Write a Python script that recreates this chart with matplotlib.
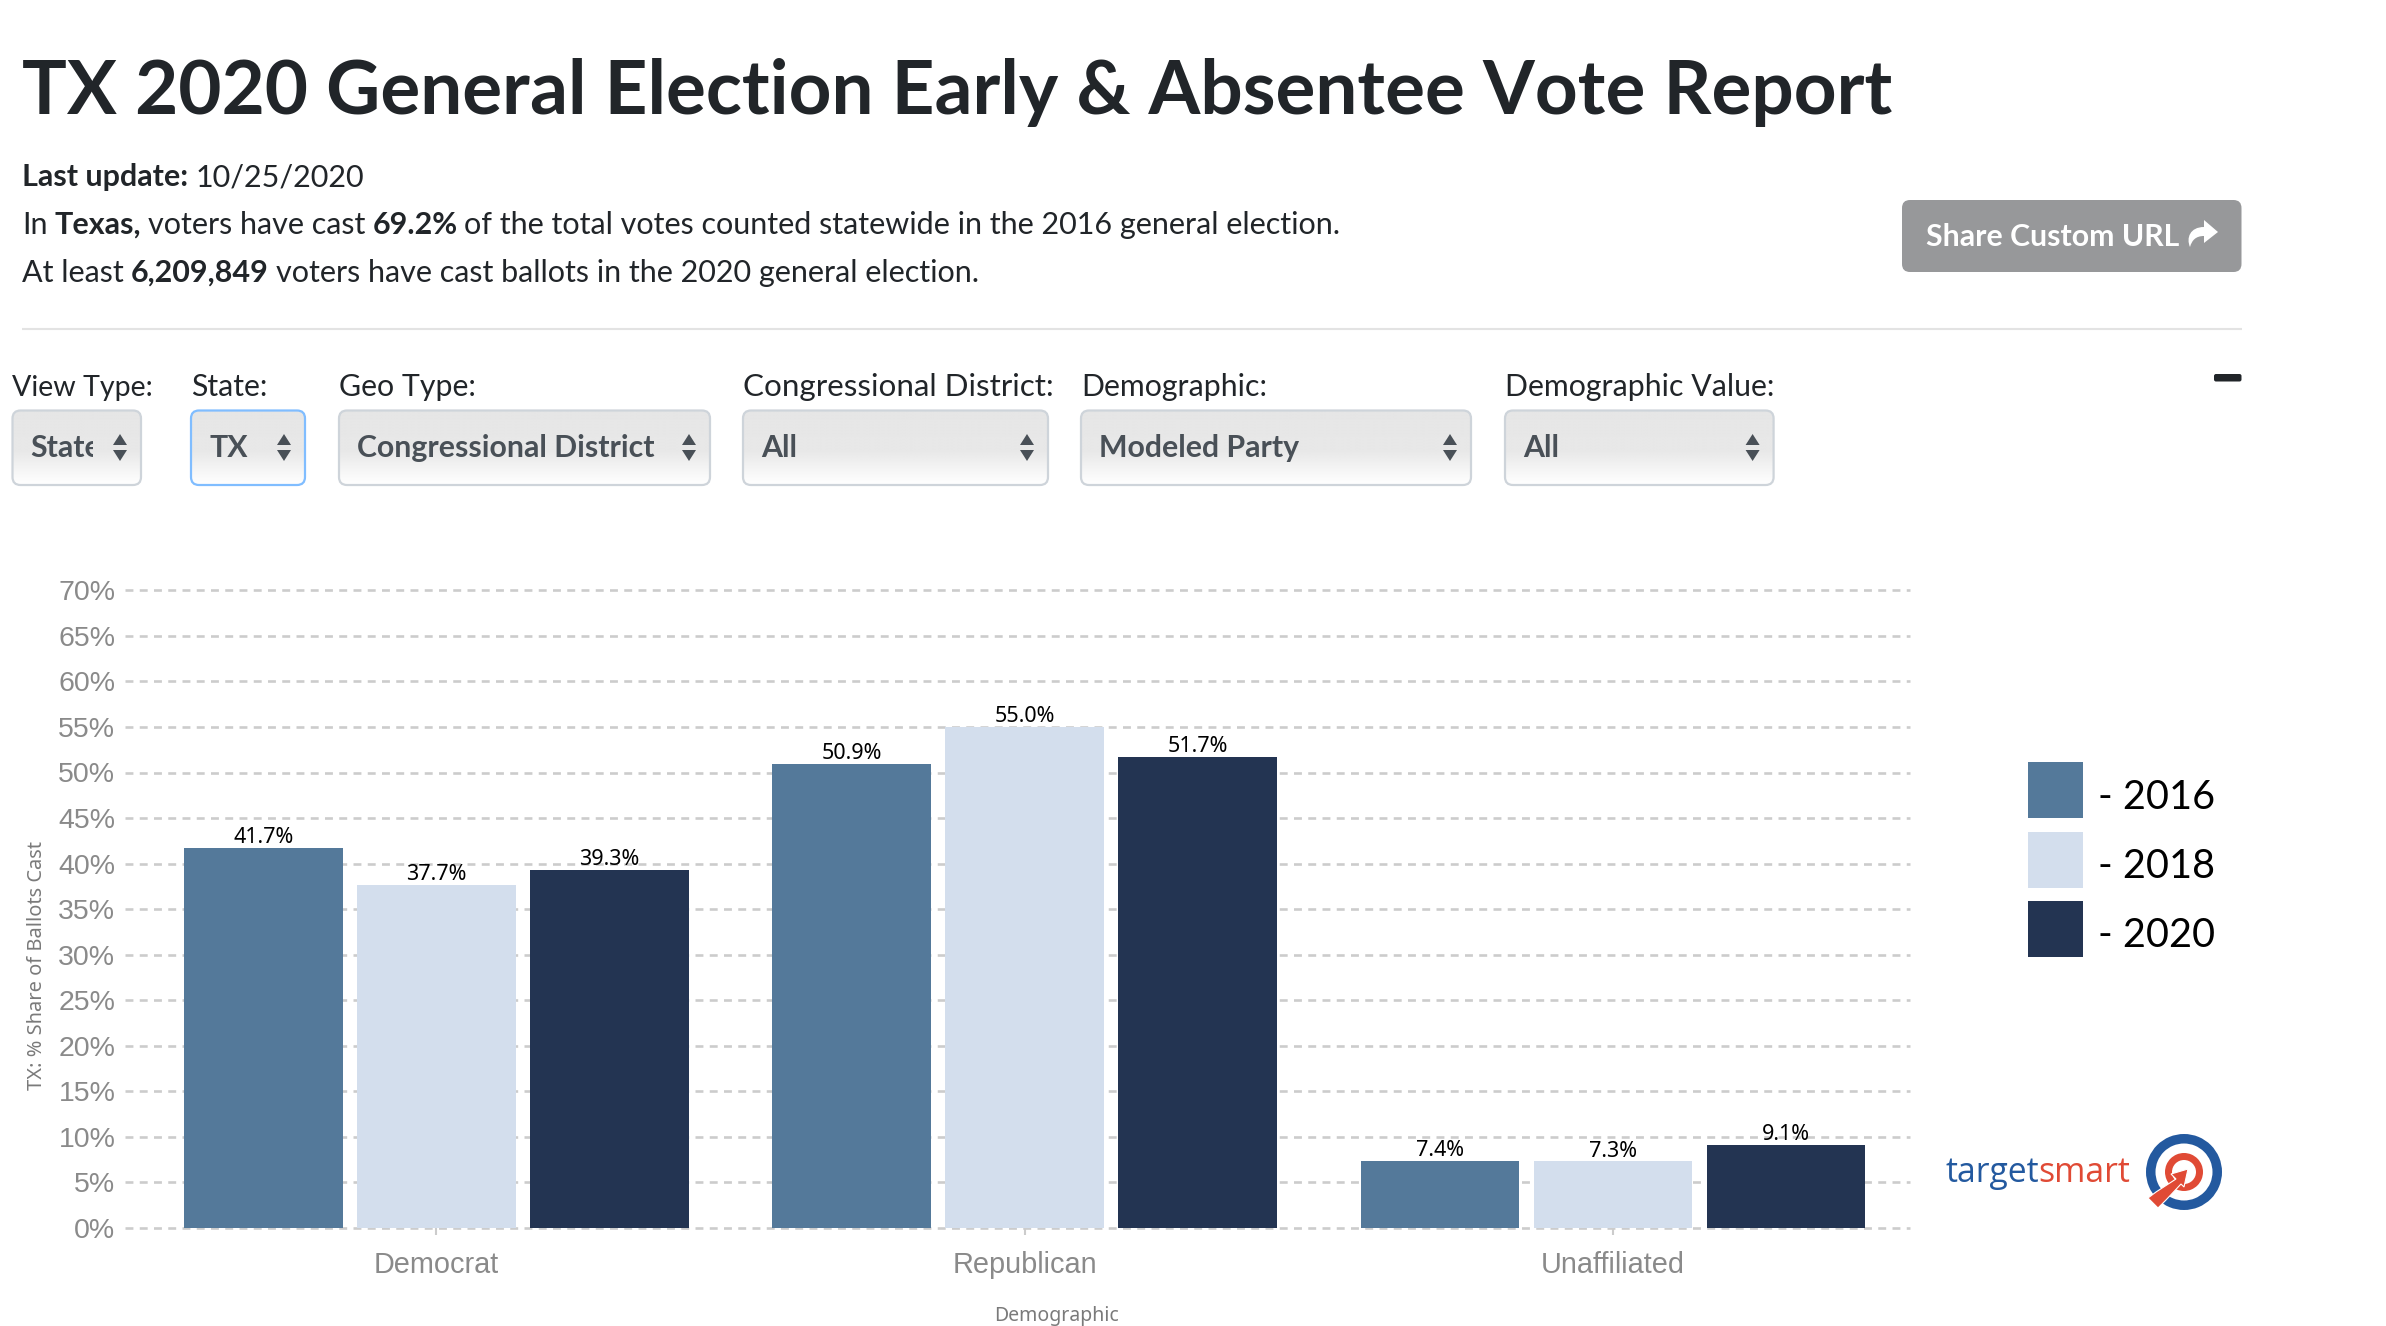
import numpy as np
import matplotlib
matplotlib.use("AGG")
import matplotlib.pyplot as plt
from matplotlib.patches import FancyBboxPatch, Rectangle, Wedge, Polygon, PathPatch
from matplotlib.path import Path
from matplotlib.ticker import FuncFormatter

# chart data
categories = ["Democrat", "Republican", "Unaffiliated"]
years = ["2016", "2018", "2020"]
share_2016 = [41.7, 50.9, 7.4]
share_2018 = [37.7, 55.0, 7.3]
share_2020 = [39.3, 51.7, 9.1]
y_ticks = [0, 5, 10, 15, 20, 25, 30, 35, 40, 45, 50, 55, 60, 65, 70]

# page text
title = "TX 2020 General Election Early & Absentee Vote Report"
line_update = [("Last update:", "bold"), ("10/25/2020", "normal")]
line_texas = [("In", "normal"), ("Texas,", "bold"), ("voters have cast", "normal"), ("69.2%", "bold"),
              ("of the total votes counted statewide in the 2016 general election.", "normal")]
line_count = [("At least", "normal"), ("6,209,849", "bold"),
              ("voters have cast ballots in the 2020 general election.", "normal")]
dropdown_labels = ["View Type:", "State:", "Geo Type:", "Congressional District:", "Demographic:", "Demographic Value:"]
dropdown_values = ["State", "TX", "Congressional District", "All", "Modeled Party", "All"]

colors = ["#54799A", "#D3DEED", "#233452"]
W, H = 2386, 1326
UI_FONT = "Lato"
TEXT_DARK = "#212529"
GREY = "#8A8A8A"

fig = plt.figure(figsize=(W / 100, H / 100), dpi=100)

# chart axes, placed in pixels
left, right, top, bottom = 125, 1910, 590.3, 1228
ax = fig.add_axes([left / W, 1 - bottom / H, (right - left) / W, (bottom - top) / H])
x = np.arange(len(categories))
bar_w = 0.27
offset = 0.2941
for i, series in enumerate([share_2016, share_2018, share_2020]):
    pos = x + (i - 1) * offset
    ax.bar(pos, series, bar_w, color=colors[i], zorder=3)
    for px, val in zip(pos, series):
        ax.annotate("%.1f%%" % val, (px, val), xytext=(0, 3.5), textcoords="offset points",
                    ha="center", va="baseline", fontsize=15.5, family="Noto Sans", color="black", zorder=4)

ax.set_xlim(-0.5295, 2.505)
ax.set_ylim(0, 70)
ax.set_yticks(y_ticks)
ax.yaxis.set_major_formatter(FuncFormatter(lambda v, p: "%d%%" % v))
ax.set_xticks(x)
ax.set_xticklabels(categories)
ax.grid(axis="y", color="#CCCCCC", linewidth=1.9, linestyle=(0, (3.0, 2.4)), zorder=1)
ax.set_axisbelow(True)
for line in ax.get_ygridlines():
    line.set_clip_on(False)
for s in ax.spines.values():
    s.set_visible(False)
ax.tick_params(axis="y", length=0, pad=7, labelsize=20.5, labelcolor=GREY)
ax.tick_params(axis="x", length=5, width=1.5, color="#CCCCCC", pad=11.5, labelsize=20.8, labelcolor=GREY)
for lab in ax.get_xticklabels() + ax.get_yticklabels():
    lab.set_family("Liberation Sans")

ax.set_ylabel("TX: % Share of Ballots Cast", fontsize=14.4, family="Noto Sans", color="#7A7A7A")
ax.yaxis.set_label_coords((47 - left) / (right - left), (bottom - 965) / (bottom - top))
ax.set_xlabel("Demographic", fontsize=14, family="Noto Sans", color="#7A7A7A")
ax.xaxis.set_label_coords((1056 - left) / (right - left), (bottom - 1306) / (bottom - top))

# overlay axes for the page around the chart, in image pixels
ui = fig.add_axes([0, 0, 1, 1], facecolor="none")
ui.axis("off")
renderer = fig.canvas.get_renderer()


def write_runs(x0, y0, parts, size, gap=7, color=TEXT_DARK, family=UI_FONT):
    # write text pieces one after the other, bold and normal mixed
    for txt, weight in parts:
        t = ui.text(x0, y0, txt, fontsize=size, fontweight=weight, color=color, family=family, va="baseline", ha="left")
        x0 += t.get_window_extent(renderer).width + gap
    return x0


def rounded(x0, y0, x1, y1, r, **kw):
    p = FancyBboxPatch((x0 + r, y0 + r), x1 - x0 - 2 * r, y1 - y0 - 2 * r,
                       boxstyle="round,pad=%s,rounding_size=%s" % (r, r), **kw)
    ui.add_patch(p)
    return p


ui.text(22, 114, title, fontsize=53.7, fontweight="bold", color=TEXT_DARK, family=UI_FONT, va="baseline")
write_runs(22, 186, line_update, 22)
write_runs(22, 234, line_texas, 22)
write_runs(22, 282, line_count, 22)
ui.plot([22, 2241.5], [329, 329], color="#E3E3E3", lw=1.5, solid_capstyle="butt")

# share button
rounded(1902, 200, 2241.5, 272, 8, facecolor="#97989A", edgecolor="none")
ui.text(1926, 246.5, "Share Custom URL", fontsize=21.8, fontweight="bold", color="white", family=UI_FONT, va="baseline")
icon = Path([(2218, 232), (2204, 220), (2204, 227), (2190, 227), (2186, 238), (2190, 247),
             (2192, 240), (2196, 236), (2204, 236), (2204, 243), (2218, 232)],
            [Path.MOVETO, Path.LINETO, Path.LINETO, Path.CURVE4, Path.CURVE4, Path.CURVE4,
             Path.CURVE4, Path.CURVE4, Path.CURVE4, Path.LINETO, Path.CLOSEPOLY])
ui.add_patch(PathPatch(icon, facecolor="white", edgecolor="none"))
rounded(2214, 374, 2241.5, 381.5, 2, facecolor=TEXT_DARK, edgecolor="none")

# dropdowns
box_left = [12.5, 191, 339, 743, 1081, 1505]
box_right = [141, 305, 710, 1048, 1471, 1773.6]
label_size = [20.6, 21.8, 21.8, 22.6, 21.8, 21.8]
box_top, box_bottom = 410.5, 485
shade = np.interp(np.linspace(0, 1, 100), [0, 0.55, 1], [0.90, 0.91, 1.0]).reshape(-1, 1)
for i, (lab, val) in enumerate(zip(dropdown_labels, dropdown_values)):
    x0, x1 = box_left[i], box_right[i]
    ui.text(x0, 396, lab, fontsize=label_size[i], color=TEXT_DARK, family=UI_FONT, va="baseline")
    edge = "#80BDFF" if val == "TX" else "#CED4DA"
    box = rounded(x0, box_top, x1, box_bottom, 8, facecolor="none", edgecolor=edge, linewidth=1.6, zorder=3)
    grad = ui.imshow(shade, extent=(x0, x1, box_bottom, box_top), aspect="auto", cmap="gray", vmin=0, vmax=1,
                     interpolation="bilinear", zorder=2)
    grad.set_clip_path(box)
    t = ui.text(x0 + 18, 457, val, fontsize=21.8, fontweight="bold", color="#495057", family=UI_FONT, va="baseline", zorder=4)
    if val == "State":
        # the native select cuts this word off
        t.set_clip_on(True)
        t.set_clip_path(Rectangle((x0, box_top), 80.5, 70, transform=ui.transData))
    ax_c = x1 - 21
    ui.add_patch(Polygon([(ax_c - 7, 445), (ax_c + 7, 445), (ax_c, 434)], facecolor="#495057", edgecolor="none", zorder=4))
    ui.add_patch(Polygon([(ax_c - 7, 450), (ax_c + 7, 450), (ax_c, 461)], facecolor="#495057", edgecolor="none", zorder=4))

# legend
legend_top = [762, 831.5, 900.5]
legend_base = [809, 878, 947]
for i, yr in enumerate(years):
    ui.add_patch(Rectangle((2028, legend_top[i]), 55, 56, facecolor=colors[i], edgecolor="none"))
    ui.text(2098, legend_base[i], "- " + yr, fontsize=28.5, color="black", family=UI_FONT, va="baseline")

# targetsmart logo
BLUE, RED = "#23599F", "#E04A35"
t = ui.text(1945, 1182, "target", fontsize=24.3, color=BLUE, family="Open Sans", va="baseline")
ui.text(1945 + t.get_window_extent(renderer).width, 1182, "smart", fontsize=24.3, color=RED, family="Open Sans", va="baseline")
ui.add_patch(Wedge((2184, 1172), 38, 0, 360, width=9.5, facecolor=BLUE, edgecolor="none"))
ui.add_patch(Wedge((2184, 1172), 19, 0, 360, width=7, facecolor=RED, edgecolor="none"))
ui.add_patch(Polygon([(2188, 1169), (2171, 1174), (2176, 1179), (2156, 1192), (2148, 1198), (2158, 1208),
                      (2166, 1200), (2181, 1184), (2184, 1187)],
                     facecolor=RED, edgecolor="white", linewidth=0.8))

ui.set_xlim(0, W)
ui.set_ylim(H, 0)
ui.set_aspect("auto")

fig.savefig("out.png", dpi=100)
